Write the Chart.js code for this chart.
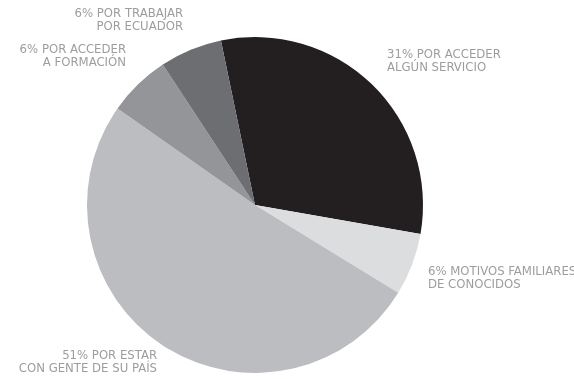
<!DOCTYPE html>
<html>
<head>
<meta charset="utf-8">
<script src="https://cdn.jsdelivr.net/npm/chart.js@4"></script>
<style>
  html, body { margin: 0; padding: 0; background: #fff; }
  #wrap { width: 574px; height: 379px; }
</style>
</head>
<body>
<div id="wrap"><canvas id="myChart"></canvas></div>
<script>
// Slice data, clockwise from the top
var categories = [
    ['31% POR ACCEDER', 'ALGÚN SERVICIO'],
    ['6% MOTIVOS FAMILIARES', 'DE CONOCIDOS'],
    ['51% POR ESTAR', 'CON GENTE DE SU PAÍS'],
    ['6% POR ACCEDER', 'A FORMACIÓN'],
    ['6% POR TRABAJAR', 'POR ECUADOR']
];
var values = [31, 6, 51, 6, 6];
var colors = ['#231f20', '#dcdddf', '#bcbdc0', '#939598', '#6d6e71'];

// Where each label sits (x, y of first line) and its alignment
var labelPos = [
    { x: 387, y: 55, align: 'left' },
    { x: 428, y: 272, align: 'left' },
    { x: 157, y: 356, align: 'right' },
    { x: 126, y: 50, align: 'right' },
    { x: 183, y: 14, align: 'right' }
];

// Draws the outside labels after the chart
var outsideLabels = {
    id: 'outsideLabels',
    afterDraw: function(chart) {
        var ctx = chart.ctx;
        ctx.save();
        ctx.fillStyle = '#9d9d9f';
        ctx.font = '13px "Liberation Sans Narrow", "DejaVu Sans Condensed", sans-serif';
        ctx.textBaseline = 'middle';
        for (var i = 0; i < categories.length; i++) {
            var p = labelPos[i];
            ctx.textAlign = p.align;
            for (var j = 0; j < categories[i].length; j++) {
                ctx.fillText(categories[i][j], p.x, p.y + j * 12.5);
            }
        }
        ctx.restore();
    }
};

var ctx = document.getElementById('myChart').getContext('2d');
var chart = new Chart(ctx, {
    type: 'pie',
    data: {
        labels: categories.map(function(c) { return c.join(' '); }),
        datasets: [{
            data: values,
            backgroundColor: colors,
            borderWidth: 0
        }]
    },
    options: {
        responsive: true,
        maintainAspectRatio: false,
        animation: false,
        rotation: -11.7,
        layout: { padding: { left: 87, right: 151, top: 37, bottom: 6 } },
        plugins: {
            legend: { display: false },
            tooltip: { enabled: false }
        }
    },
    plugins: [outsideLabels]
});
</script>
</body>
</html>
